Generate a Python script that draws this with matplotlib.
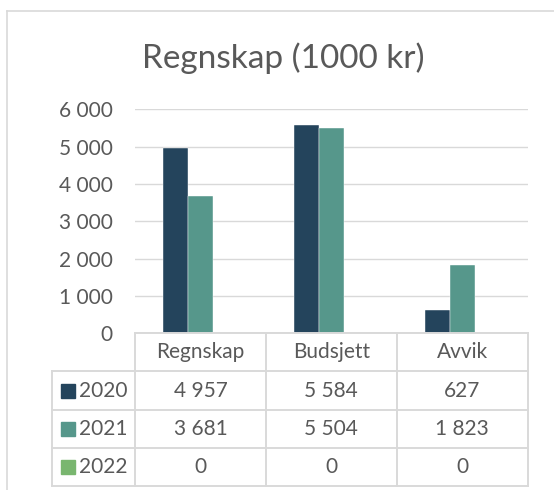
import numpy as np
import matplotlib
matplotlib.use("Agg")
import matplotlib.pyplot as plt
from matplotlib.lines import Line2D
from matplotlib.ticker import FuncFormatter, MultipleLocator

# data
kategorier = ['Regnskap', 'Budsjett', 'Avvik']
aar = ['2020', '2021', '2022']
verdier_2020 = [4957, 5584, 627]
verdier_2021 = [3681, 5504, 1823]
verdier_2022 = [0, 0, 0]
serier = [verdier_2020, verdier_2021, verdier_2022]
farger = ['#24445c', '#56978b', '#79b66f']
tittel = 'Regnskap (1000 kr)'

plt.rcParams['font.family'] = ['Lato', 'DejaVu Sans']
tekst = '#595959'
linje = '#d9d9d9'

W, H = 554, 490
fig = plt.figure(figsize=(W / 100, H / 100), dpi=100)


def fx(px):
    return px / W


def fy(py):
    return 1 - py / H


def tall(v):
    return f"{v:,.0f}".replace(",", " ")


# chart border (only top and left visible)
fig.add_artist(Line2D([fx(6.7), fx(W)], [fy(11.3), fy(11.3)], color=linje, lw=1.2))
fig.add_artist(Line2D([fx(6.7), fx(6.7)], [fy(11.3), fy(H)], color=linje, lw=1.2))

fig.text(fx(283), fy(68), tittel, ha='center', va='baseline', fontsize=24, color=tekst)

# bar plot
x0, x1 = 135.0, 527.7
y0, y1 = 109.3, 333.3
ax = fig.add_axes([fx(x0), fy(y1), fx(x1 - x0), (y1 - y0) / H])
x = np.arange(len(kategorier))
bw = 25 / 130.9
for i, (vals, c) in enumerate(zip(serier, farger)):
    ax.bar(x + (i - 1) * bw, vals, bw, color=c, edgecolor='white', linewidth=0.3, zorder=3)
ax.set_xlim(-0.5, len(kategorier) - 0.5)
ax.set_ylim(0, 6000)
ax.yaxis.set_major_locator(MultipleLocator(1000))
ax.yaxis.set_major_formatter(FuncFormatter(lambda v, p: tall(v)))
ax.grid(axis='y', color=linje, lw=1.0, zorder=0)
ax.set_xticks([])
ax.tick_params(axis='y', length=0, pad=16, labelsize=15, labelcolor=tekst)
for s in ax.spines.values():
    s.set_visible(False)

# data table
t0 = 51.7
colw = (x1 - x0) / len(kategorier)
tb_bottom = 486.0
tax = fig.add_axes([fx(t0), fy(tb_bottom), fx(x1 - t0), (tb_bottom - y1) / H])
xl = -0.5 - (x0 - t0) / colw
nrows = len(aar) + 1
tax.set_xlim(xl, len(kategorier) - 0.5)
tax.set_ylim(nrows, 0)
tax.axis('off')

lk = dict(color=linje, lw=1.4, solid_capstyle='projecting', clip_on=False)
tax.plot([-0.5, len(kategorier) - 0.5], [0, 0], **lk)
for r in range(1, nrows + 1):
    tax.plot([xl, len(kategorier) - 0.5], [r, r], **lk)
tax.plot([xl, xl], [1, nrows], **lk)
for k in range(len(kategorier) + 1):
    tax.plot([k - 0.5, k - 0.5], [0, nrows], **lk)

for j, kat in enumerate(kategorier):
    tax.text(j, 0.5, kat, ha='center', va='center', fontsize=15, color=tekst)

for i, (navn, vals, c) in enumerate(zip(aar, serier, farger)):
    rad = i + 1.5
    tax.plot([xl + (68 - t0) / colw], [rad], marker='s', ms=10, color=c, clip_on=False)
    tax.text(xl + (79 - t0) / colw, rad, navn, ha='left', va='center', fontsize=15, color=tekst)
    for j, v in enumerate(vals):
        tax.text(j, rad, tall(v), ha='center', va='center', fontsize=15, color=tekst)

fig.savefig('out.png', dpi=100)
